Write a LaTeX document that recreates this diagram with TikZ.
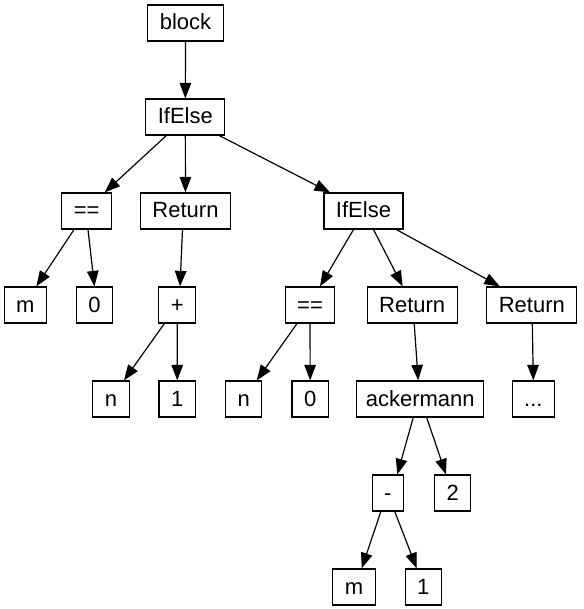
\documentclass[tikz,border=0pt]{standalone}
\usepackage{fontspec}
\setmainfont{Liberation Sans}
\usetikzlibrary{arrows.meta}
\tikzset{
  ast/.style={draw, line width=1.2pt, inner xsep=12pt, inner ysep=0pt,
    minimum height=36pt, text height=17pt, text depth=3pt,
    font=\fontsize{22}{26}\selectfont},
  edge/.style={line width=1.2pt, -{Triangle[length=15.5pt,width=11.5pt]}}
}
\begin{document}
\begin{tikzpicture}[x=1pt,y=-1pt]
\useasboundingbox (0,0) rectangle (583,609);
% first levels
\node[ast] (block) at (185.5,23) {block};
\node[ast] (ifA) at (185.3,117) {IfElse};
\node[ast] (eqA) at (86.7,211) {==};
\node[ast] (retA) at (185.5,211) {Return};
\node[ast] (ifB) at (363.5,211) {IfElse};
% row 4
\node[ast] (mA) at (25.3,305) {m};
\node[ast] (zeroA) at (94.5,305) {0};
\node[ast] (plus) at (177.3,305) {+};
\node[ast] (eqB) at (310,305) {==};
\node[ast] (retB) at (412.2,305) {Return};
\node[ast] (retC) at (531.8,305) {Return};
% row 5
\node[ast] (nA) at (111,399) {n};
\node[ast] (oneA) at (177.2,399) {1};
\node[ast] (nB) at (243.7,399) {n};
\node[ast] (zeroB) at (310.2,399) {0};
\node[ast, inner xsep=9pt] (ack) at (420.2,399) {ackermann};
\node[ast] (dots) at (533.3,399) {...};
% bottom
\node[ast] (minus) at (387.8,493) {-};
\node[ast] (two) at (452.7,493) {2};
\node[ast] (mB) at (354,587) {m};
\node[ast] (oneB) at (423.3,587) {1};
% edges
\draw[edge] (block) -- (ifA);
\draw[edge] ([xshift=-19pt]ifA.south) -- ([xshift=18pt]eqA.north);
\draw[edge] (ifA) -- (retA);
\draw[edge] ([xshift=34pt]ifA.south) -- ([xshift=-33.5pt]ifB.north);
\draw[edge] ([xshift=-12.7pt]eqA.south) -- ([xshift=11pt]mA.north);
\draw[edge] ([xshift=1.3pt]eqA.south) -- (zeroA.north);
\draw[edge] ([xshift=-3pt]retA.south) -- ([xshift=2.7pt]plus.north);
\draw[edge] ([xshift=-13pt]plus.south) -- ([xshift=13pt]nA.north);
\draw[edge] (plus) -- (oneA);
\draw[edge] ([xshift=-10pt]ifB.south) -- ([xshift=10pt]eqB.north);
\draw[edge] ([xshift=10pt]ifB.south) -- ([xshift=-9.5pt]retB.north);
\draw[edge] ([xshift=33pt]ifB.south) -- ([xshift=-32pt]retC.north);
\draw[edge] ([xshift=-13pt]eqB.south) -- ([xshift=13pt]nB.north);
\draw[edge] (eqB) -- (zeroB);
\draw[edge] ([xshift=2pt]retB.south) -- ([xshift=-2pt]ack.north);
\draw[edge] ([xshift=0.5pt]retC.south) -- (dots.north);
\draw[edge] ([xshift=-7pt]ack.south) -- ([xshift=9.5pt]minus.north);
\draw[edge] ([xshift=6.5pt]ack.south) -- ([xshift=-6.7pt]two.north);
\draw[edge] ([xshift=-7pt]minus.south) -- ([xshift=7.7pt]mB.north);
\draw[edge] ([xshift=7pt]minus.south) -- ([xshift=-6.6pt]oneB.north);
\end{tikzpicture}
\end{document}
